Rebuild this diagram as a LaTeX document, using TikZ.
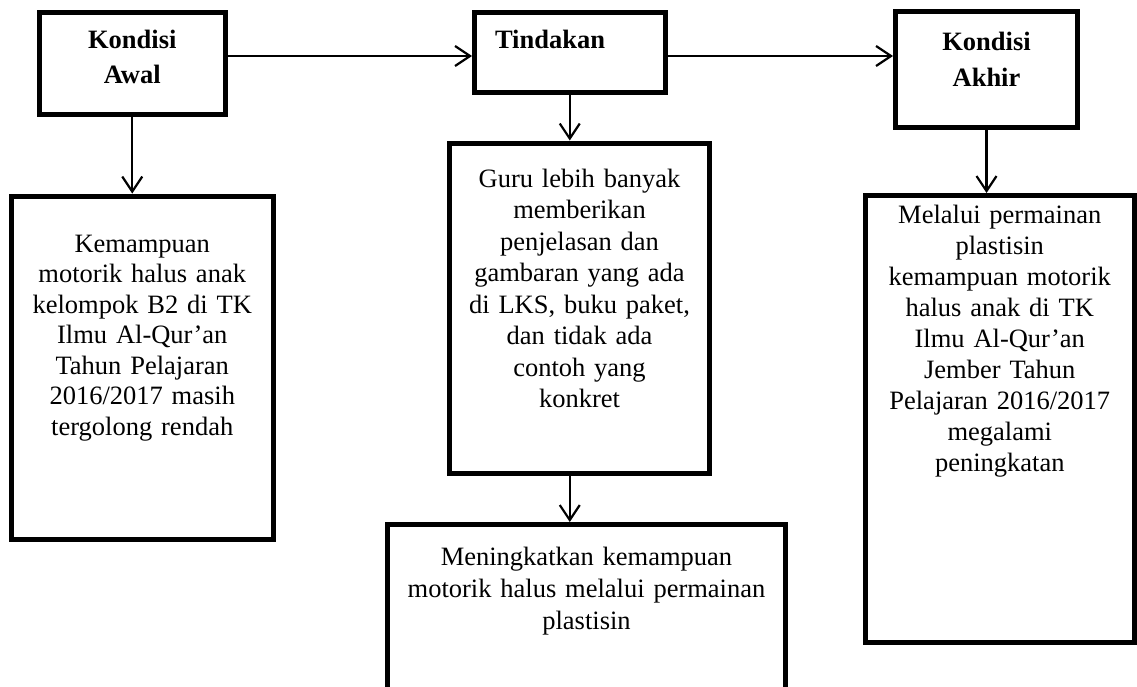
\documentclass[tikz,border=0pt]{standalone}
\usepackage{fontspec}
\setmainfont{Liberation Serif}
\usetikzlibrary{shapes,arrows.meta,positioning}
\tikzstyle{block} = [rectangle, draw, line width=5pt, inner sep=0pt, anchor=base, align=center,
 font=\fontsize{26.5}{31}\selectfont]
\tikzstyle{head} = [block, font=\fontsize{26.5}{35}\selectfont\bfseries]
\tikzstyle{line} = [draw, line width=2.2pt, -{Straight Barb[length=15pt,width=20pt]}]

\begin{document}
\begin{tikzpicture}[x=1pt, y=-1pt]
        \useasboundingbox (0,0) rectangle (1137,686);
        \fill[white] (0,0) rectangle (1137,686);

        \node[head, text width=185.5pt, text height=36pt, text depth=66pt]   (awal) at (132.25,48) {Kondisi\\Awal};
        \node[head, align=left, text width=190.5pt, text height=35.5pt, text depth=44.5pt] (tndk) at (569.75,48) {\hspace*{20.5pt}Tindakan};
        \node[head, text width=182pt, text height=38.5pt, text depth=77.5pt, font=\fontsize{26.5}{36}\selectfont\bfseries] (akhr) at (986.5,50) {Kondisi\\Akhir};

        \node[block, text width=261.5pt, text height=56pt, text depth=287pt, font=\fontsize{26.5}{30.5}\selectfont] (kmpn) at (142.25,252)
          {Kemampuan\\motorik halus anak\\kelompok B2 di TK\\Ilmu Al-Qur’an\\Tahun Pelajaran\\2016/2017 masih\\tergolong rendah};
        \node[block, text width=260pt, text height=44pt, text depth=286.5pt, font=\fontsize{26.5}{31.5}\selectfont] (guru) at (579.5,187)
          {Guru lebih banyak\\memberikan\\penjelasan dan\\gambaran yang ada\\di LKS, buku paket,\\dan tidak ada\\contoh yang\\konkret};
        \node[block, text width=398pt, text height=40.5pt, text depth=155pt, font=\fontsize{26.5}{32}\selectfont] (mngk) at (586.5,565)
          {Meningkatkan kemampuan\\motorik halus melalui permainan\\plastisin};
        \node[block, text width=268.5pt, text height=27.5pt, text depth=419.5pt] (mlli) at (999.75,223)
          {Melalui permainan\\plastisin\\kemampuan motorik\\halus anak di TK\\Ilmu Al-Qur’an\\Jember Tahun\\Pelajaran 2016/2017\\megalami\\peningkatan};

        % level of the two top connectors
        \coordinate (row) at (0,56);

        \path[line] (awal.east |- row) -- (tndk.west |- row);
        \path[line] (tndk.east |- row) -- (akhr.west |- row);

        \path[line] (awal.south) -- (kmpn.north -| awal.south);
        \path[line] (tndk.south) -- (guru.north -| tndk.south);
        \path[line] (guru.south -| tndk.south) -- (mngk.north -| tndk.south);
        \path[line] (akhr.south) -- (mlli.north -| akhr.south);
\end{tikzpicture}
\end{document}
